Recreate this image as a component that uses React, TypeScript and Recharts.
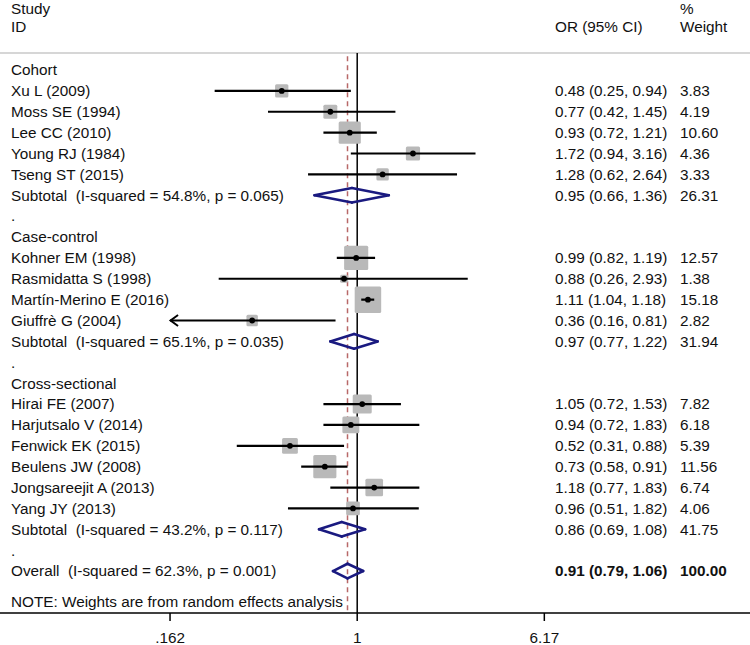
import React from 'react'
import { ScatterChart, Scatter, XAxis, YAxis, ReferenceLine } from 'recharts'

// group order and the studies in each group
const groupNames = ['Cohort', 'Case-control', 'Cross-sectional']
const studyGroups = [0, 0, 0, 0, 0, 1, 1, 1, 1, 2, 2, 2, 2, 2, 2]
const studyLabels = [
  'Xu L (2009)',
  'Moss SE (1994)',
  'Lee CC (2010)',
  'Young RJ (1984)',
  'Tseng ST (2015)',
  'Kohner EM (1998)',
  'Rasmidatta S (1998)',
  'Martín-Merino E (2016)',
  'Giuffrè G (2004)',
  'Hirai FE (2007)',
  'Harjutsalo V (2014)',
  'Fenwick EK (2015)',
  'Beulens JW (2008)',
  'Jongsareejit A (2013)',
  'Yang JY (2013)',
]
const studyOR = [0.48, 0.77, 0.93, 1.72, 1.28, 0.99, 0.88, 1.11, 0.36, 1.05, 0.94, 0.52, 0.73, 1.18, 0.96]
const studyLower = [0.25, 0.42, 0.72, 0.94, 0.62, 0.82, 0.26, 1.04, 0.16, 0.72, 0.72, 0.31, 0.58, 0.77, 0.51]
const studyUpper = [0.94, 1.45, 1.21, 3.16, 2.64, 1.19, 2.93, 1.18, 0.81, 1.53, 1.83, 0.88, 0.91, 1.83, 1.82]
const studyWeight = [3.83, 4.19, 10.6, 4.36, 3.33, 12.57, 1.38, 15.18, 2.82, 7.82, 6.18, 5.39, 11.56, 6.74, 4.06]

const subtotalHet = ['I-squared = 54.8%, p = 0.065', 'I-squared = 65.1%, p = 0.035', 'I-squared = 43.2%, p = 0.117']
const subtotalOR = [0.95, 0.97, 0.86]
const subtotalLower = [0.66, 0.77, 0.69]
const subtotalUpper = [1.36, 1.22, 1.08]
const subtotalWeight = [26.31, 31.94, 41.75]

const overallHet = 'I-squared = 62.3%, p = 0.001'
const overallOR = 0.91
const overallLower = 0.79
const overallUpper = 1.06
const overallWeight = 100.0

const xTicks = [0.162, 1, 6.17]
const xTickLabels = ['.162', '1', '6.17']
const noteText = 'NOTE: Weights are from random effects analysis'

// layout
const W = 750
const H = 645
const X_DOMAIN = [0.031, 45.6]
const Y_DOMAIN = [-3.353, 26.01]
const HEADER_ROWS = [-2.93, -2.07]
const HEADER_LINE_ROW = -0.81
const NOTE_ROW = 25.45
const LABEL_X = 11
const OR_X = 555
const WEIGHT_X = 680
const FONT = '"Liberation Sans", Arial, sans-serif'
const FONT_SIZE = 15.3
const TEXT = '#111'
const NAVY = '#1a1a80'
const DIAMOND_H = 0.35
const SQUARE_K = 6.8

type Row = {
  row: number
  kind: 'group' | 'study' | 'subtotal' | 'dot' | 'overall'
  label: string
  or?: number
  lower?: number
  upper?: number
  weight?: number
}

const fmt = (v: number) => v.toFixed(2)
const clipMin = xTicks[0]
const clipMax = xTicks[xTicks.length - 1]

const rows: Row[] = []
let r = 0
groupNames.forEach((g, gi) => {
  rows.push({ row: r++, kind: 'group', label: g })
  studyLabels.forEach((s, i) => {
    if (studyGroups[i] !== gi) return
    rows.push({ row: r++, kind: 'study', label: s, or: studyOR[i], lower: studyLower[i], upper: studyUpper[i], weight: studyWeight[i] })
  })
  rows.push({
    row: r++,
    kind: 'subtotal',
    label: `Subtotal  (${subtotalHet[gi]})`,
    or: subtotalOR[gi],
    lower: subtotalLower[gi],
    upper: subtotalUpper[gi],
    weight: subtotalWeight[gi],
  })
  rows.push({ row: r++, kind: 'dot', label: '.' })
})
rows.push({ row: r++, kind: 'overall', label: `Overall  (${overallHet})`, or: overallOR, lower: overallLower, upper: overallUpper, weight: overallWeight })

const studyRows = rows.filter((d) => d.kind === 'study')
const pooledRows = rows.filter((d) => d.kind === 'subtotal' || d.kind === 'overall')
const rowByIndex = new Map(rows.map((d) => [d.row, d]))
const yTicks = [...HEADER_ROWS, ...rows.map((d) => d.row), NOTE_ROW]

const textStyle = { fontFamily: FONT, fontSize: FONT_SIZE, fill: TEXT, whiteSpace: 'pre' as const }

const RowTick = (props: any) => {
  const { y, payload } = props
  const v = payload.value
  const t = (x: number, s: string, bold = false) => (
    <text x={x} y={y} dy="0.35em" textAnchor="start" style={{ ...textStyle, fontWeight: bold ? 'bold' : 'normal' }}>
      {s}
    </text>
  )
  if (v === HEADER_ROWS[0]) {
    return <g>{t(LABEL_X, 'Study')}{t(WEIGHT_X, '%')}</g>
  }
  if (v === HEADER_ROWS[1]) {
    return <g>{t(LABEL_X, 'ID')}{t(OR_X, 'OR (95% CI)')}{t(WEIGHT_X, 'Weight')}</g>
  }
  if (v === NOTE_ROW) return t(LABEL_X, noteText)
  const d = rowByIndex.get(v)
  if (!d) return <g />
  const bold = d.kind === 'overall'
  return (
    <g>
      {t(LABEL_X, d.label)}
      {d.or !== undefined && t(OR_X, `${fmt(d.or)} (${fmt(d.lower!)}, ${fmt(d.upper!)})`, bold)}
      {d.weight !== undefined && t(WEIGHT_X, fmt(d.weight), bold)}
    </g>
  )
}

const SquareShape = (props: any) => {
  const { cx, cy, payload } = props
  const s = SQUARE_K * Math.sqrt(payload.weight)
  return <rect x={cx - s / 2} y={cy - s / 2} width={s} height={s} rx={1.5} fill="#b9b9b9" />
}

const DotShape = (props: any) => {
  const { cx, cy } = props
  return <circle cx={cx} cy={cy} r={2.9} fill="#000" />
}

// CI line; an open arrow head marks a lower bound cut at the axis
const CiLine = (props: any) => {
  const { x1, y1, x2, y2, arrow } = props
  const left = Math.min(x1, x2)
  return (
    <g>
      <line x1={x1} y1={y1} x2={x2} y2={y2} stroke="#000" strokeWidth={2.2} />
      {arrow && (
        <path
          d={`M${left + 8},${y1 - 5.5} L${left + 0.5},${y1} L${left + 8},${y1 + 5.5}`}
          fill="none"
          stroke="#000"
          strokeWidth={2}
        />
      )}
    </g>
  )
}

export default function App() {
  return (
    <div style={{ position: 'absolute', left: 0, top: 0, width: W, height: H, background: '#fff' }}>
      <ScatterChart width={W} height={H} margin={{ top: 0, right: 0, bottom: 0, left: -1 }}>
        <XAxis
          type="number"
          dataKey="or"
          scale="log"
          domain={X_DOMAIN}
          allowDataOverflow
          ticks={xTicks}
          interval={0}
          tickFormatter={(v: number) => xTickLabels[xTicks.indexOf(v)] ?? String(v)}
          height={H - 613}
          tickSize={8}
          tickMargin={11}
          axisLine={{ stroke: '#000', strokeWidth: 1.5 }}
          tickLine={{ stroke: '#000', strokeWidth: 1.5 }}
          tick={{ fontFamily: FONT, fontSize: FONT_SIZE, fill: TEXT }}
        />
        <YAxis
          type="number"
          dataKey="row"
          domain={Y_DOMAIN}
          reversed
          allowDataOverflow
          ticks={yTicks}
          interval={0}
          width={1}
          axisLine={false}
          tickLine={false}
          tick={(p: any) => <RowTick {...p} />}
        />
        <ReferenceLine y={HEADER_LINE_ROW} stroke="#c8c8c8" strokeWidth={1.5} zIndex={50} />
        <ReferenceLine
          segment={[{ x: 1, y: HEADER_LINE_ROW }, { x: 1, y: Y_DOMAIN[1] }]}
          stroke="#000"
          strokeWidth={1.5}
          zIndex={50}
        />
        <ReferenceLine
          segment={[{ x: overallOR, y: HEADER_LINE_ROW + 0.15 }, { x: overallOR, y: Y_DOMAIN[1] }]}
          stroke="#b86868"
          strokeWidth={1.5}
          strokeDasharray="5 4"
          zIndex={60}
        />
        {pooledRows.flatMap((d) => {
          const pts = [
            { x: d.lower!, y: d.row },
            { x: d.or!, y: d.row - DIAMOND_H },
            { x: d.upper!, y: d.row },
            { x: d.or!, y: d.row + DIAMOND_H },
          ]
          return pts.map((p, i) => (
            <ReferenceLine
              key={`dm-${d.row}-${i}`}
              segment={[p, pts[(i + 1) % 4]]}
              stroke={NAVY}
              strokeWidth={2.6}
              strokeLinecap="round"
              zIndex={70}
            />
          ))
        })}
        <Scatter data={studyRows} shape={(p: any) => <SquareShape {...p} />} isAnimationActive={false} zIndex={100} />
        {studyRows.map((d) => (
          <ReferenceLine
            key={`ci-${d.row}`}
            segment={[
              { x: Math.max(d.lower!, clipMin), y: d.row },
              { x: Math.min(d.upper!, clipMax), y: d.row },
            ]}
            shape={(p: any) => <CiLine {...p} arrow={d.lower! < clipMin} />}
            zIndex={200}
          />
        ))}
        <Scatter data={studyRows} shape={(p: any) => <DotShape {...p} />} isAnimationActive={false} zIndex={300} />
      </ScatterChart>
    </div>
  )
}
